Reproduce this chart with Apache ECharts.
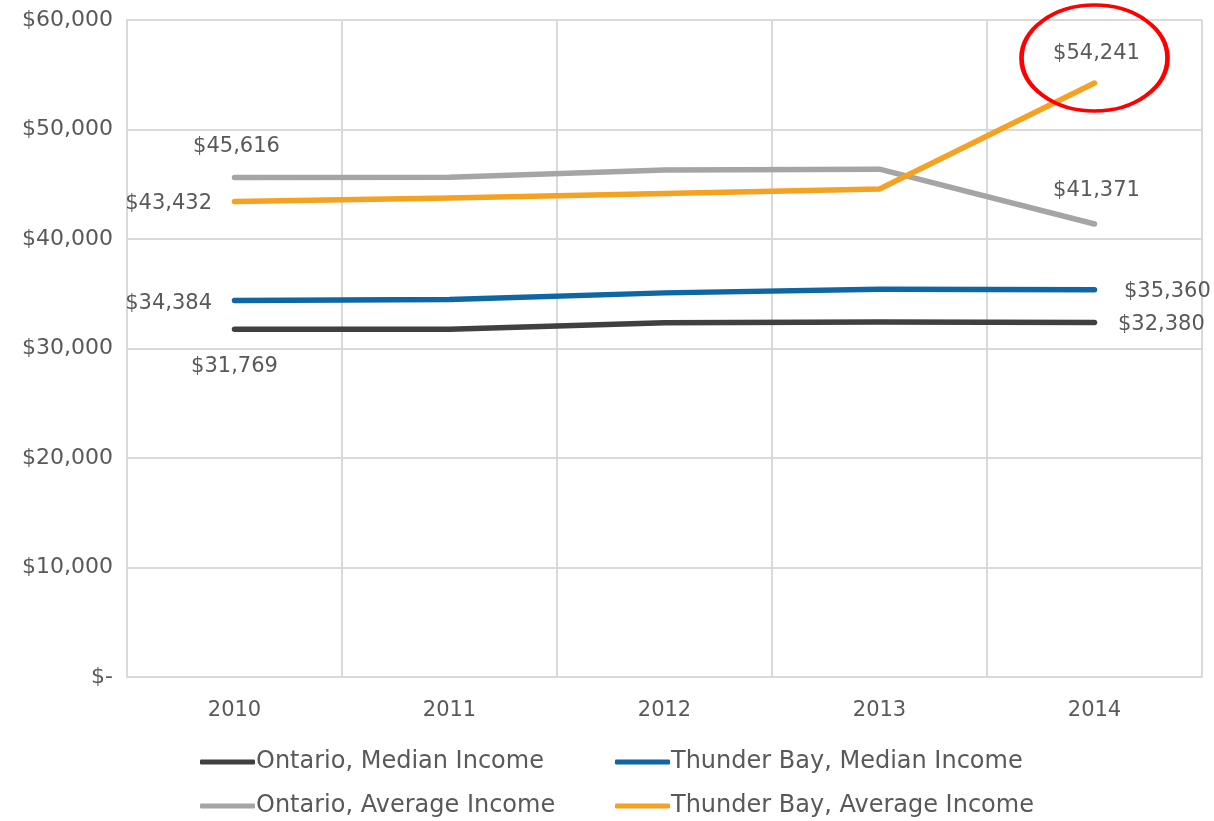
<!DOCTYPE html>
<html>
<head>
<meta charset="utf-8">
<script src="https://cdn.jsdelivr.net/npm/echarts@6/dist/echarts.min.js"></script>
<style>
html, body { margin: 0; padding: 0; background: #fff; }
#chart { width: 1214px; height: 821px; }
</style>
</head>
<body>
<div id="chart"></div>
<script>
var years = ['2010', '2011', '2012', '2013', '2014']
var ontarioMedian = [31769, 31750, 32350, 32420, 32380]
var thunderBayMedian = [34384, 34480, 35080, 35420, 35360]
var ontarioAverage = [45616, 45650, 46300, 46380, 41371]
var thunderBayAverage = [43432, 43750, 44150, 44560, 54241]
var yTicks = [0, 10000, 20000, 30000, 40000, 50000, 60000]

var FONT = 'DejaVu Sans'
var TXT = '#595959'

function money (v) {
  if (v === 0) return '$-'
  return '$' + v.toLocaleString('en-US')
}

// label only first and last points, placed like the original
function endLabels (arr, firstPos, lastPos, firstOff, lastOff) {
  return arr.map(function (v, i) {
    var d = { value: v }
    if (i === 0 || i === arr.length - 1) {
      d.label = {
        show: true,
        position: i === 0 ? firstPos : lastPos,
        offset: i === 0 ? firstOff : lastOff,
        distance: 12,
        formatter: function (p) { return money(p.value) },
        color: TXT,
        fontFamily: FONT,
        fontSize: 21
      }
    }
    return d
  })
}

function lineSeries (name, color, data, extra) {
  var s = {
    name: name,
    type: 'line',
    data: data,
    symbol: 'circle',
    symbolSize: 1,
    showSymbol: true,
    lineStyle: { color: color, width: 5.5, cap: 'round', join: 'round' },
    itemStyle: { color: color },
    emphasis: { disabled: true },
    z: 3
  }
  for (var k in extra) s[k] = extra[k]
  return s
}

var legendBase = {
  orient: 'vertical',
  top: 750,
  padding: 0,
  itemWidth: 55,
  itemHeight: 5,
  itemGap: 20,
  icon: 'roundRect',
  textStyle: { color: TXT, fontFamily: FONT, fontSize: 24, lineHeight: 24, padding: [0, 0, 0, -4] }
}

var myChart = echarts.init(document.getElementById('chart'))
var option = {
  animation: false,
  backgroundColor: '#fff',
  grid: { left: 127, right: 12, top: 20, bottom: 144, containLabel: false },
  xAxis: {
    type: 'category',
    data: years,
    boundaryGap: true,
    axisLine: { show: true, lineStyle: { color: '#D9D9D9', width: 2 } },
    axisTick: { show: false },
    splitLine: { show: true, lineStyle: { color: '#D9D9D9', width: 2 } },
    axisLabel: { color: TXT, fontFamily: FONT, fontSize: 21, margin: 23 }
  },
  yAxis: {
    type: 'value',
    min: yTicks[0],
    max: yTicks[yTicks.length - 1],
    interval: 10000,
    axisLine: { show: true, lineStyle: { color: '#D9D9D9', width: 2 } },
    axisTick: { show: false },
    splitLine: { show: true, lineStyle: { color: '#D9D9D9', width: 2 } },
    axisLabel: { color: TXT, fontFamily: FONT, fontSize: 22, margin: 14, formatter: money }
  },
  legend: [
    Object.assign({}, legendBase, { left: 200, data: ['Ontario, Median Income', 'Ontario, Average Income'] }),
    Object.assign({}, legendBase, { left: 615, data: ['Thunder Bay, Median Income', 'Thunder Bay, Average Income'] })
  ],
  series: [
    lineSeries('Ontario, Median Income', '#404040',
      endLabels(ontarioMedian, 'bottom', 'right', [0, 14], [11, 2])),
    lineSeries('Thunder Bay, Median Income', '#0F66A5',
      endLabels(thunderBayMedian, 'left', 'right', [-10, 3], [17, 2])),
    lineSeries('Ontario, Average Income', '#A5A5A5',
      endLabels(ontarioAverage, 'top', 'top', [2, -8], [2, -10])),
    lineSeries('Thunder Bay, Average Income', '#F5A122',
      endLabels(thunderBayAverage, 'left', 'top', [-10, 2], [2, -7]), {
        markPoint: {
          silent: true,
          symbol: 'circle',
          symbolSize: [146, 106],
          symbolOffset: [0, -25],
          itemStyle: { color: 'rgba(0,0,0,0)', borderColor: '#FF0000', borderWidth: 4 },
          label: { show: false },
          data: [{ coord: [years[4], thunderBayAverage[4]] }]
        }
      })
  ]
}
myChart.setOption(option)
</script>
</body>
</html>
